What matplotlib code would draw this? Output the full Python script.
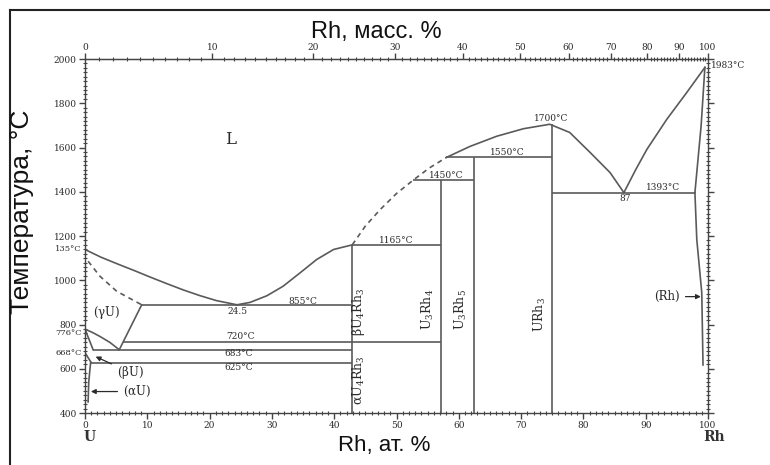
import numpy as np
import matplotlib.pyplot as plt
from matplotlib.lines import Line2D
from matplotlib.ticker import MultipleLocator, FixedLocator

# ---- data: (Rh at.%, temperature °C) ----
liq_left_x = [0, 2.5, 5.1, 7.8, 10.4, 13.1, 15.8, 18.5, 21.1, 24.4]
liq_left_t = [1139, 1105, 1075, 1045, 1015, 985, 956, 930, 908, 889]
liq_mid_x = [24.4, 26.5, 29.2, 31.8, 34.5, 37.2, 39.9, 42.9]
liq_mid_t = [889, 900, 930, 973, 1033, 1094, 1139, 1160]
liq_dash_x = [42.9, 45.0, 47.4, 50.0, 52.7, 55.3, 58.0]
liq_dash_t = [1160, 1245, 1320, 1392, 1453, 1508, 1555]
liq_top_x = [58.0, 61.8, 66.1, 70.4, 74.6, 77.8, 81.1, 84.3, 86.5]
liq_top_t = [1555, 1605, 1651, 1685, 1705, 1668, 1577, 1486, 1396]
liq_rh_x = [86.5, 88.4, 90.2, 93.4, 96.6, 99.5]
liq_rh_t = [1396, 1500, 1592, 1728, 1849, 1962]
liq_gu_x = [0.5, 2.4, 5.1, 9.1]
liq_gu_t = [1086, 1018, 950, 889]

gu_solvus_x = [0, 1.2, 2.4, 4.0, 5.5]
gu_solvus_t = [779, 764, 746, 719, 686]
gu_edge_x = [5.5, 9.1]
gu_edge_t = [686, 889]
bu_top_x = [0, 1.3]
bu_top_t = [779, 686]
bu_low_x = [0, 1.0]
bu_low_t = [672, 628]
au_solvus_x = [0.9, 0.6, 0.5]
au_solvus_t = [628, 540, 450]

rh_solidus_x = [99.5, 98.9, 97.9]
rh_solidus_t = [1962, 1700, 1396]
rh_solvus_x = [97.9, 98.2, 99.0, 99.2]
rh_solvus_t = [1396, 1184, 944, 617]

# isotherms: temperature, start, end
iso_t = [889, 723, 686, 628, 1160, 1453, 1555, 1396]
iso_x0 = [9.1, 6.1, 1.3, 0.9, 42.9, 52.7, 58.0, 75.0]
iso_x1 = [42.9, 57.1, 42.9, 42.9, 57.1, 62.5, 75.0, 97.9]

# compounds: composition and top temperature
comp_x = [42.9, 57.1, 62.5, 75.0]
comp_top = [1160, 1453, 1555, 1705]
comp_names = [r'$\beta$U$_4$Rh$_3$', 'U$_3$Rh$_4$', 'U$_3$Rh$_5$', 'URh$_3$']
comp_lab_x = [43.9, 55.1, 60.3, 73.0]
comp_lab_t = [859, 867, 867, 844]

# temperature labels inside the plot
tlab_text = ['855°C', '24.5', '720°C', '683°C', '625°C', '1165°C', '1450°C',
             '1550°C', '1700°C', '1393°C', '87']
tlab_x = [35.0, 24.4, 24.9, 24.6, 24.6, 50.0, 58.0, 67.7, 74.9, 92.8, 86.7]
tlab_t = [906, 860, 745, 667, 606, 1180, 1474, 1577, 1731, 1419, 1369]

left_lab = ['135°C', '776°C', '668°C']
left_lab_t = [1139, 760, 672]

U_MASS, RH_MASS = 238.03, 102.91


def at2wt(x):
    x = np.clip(np.asarray(x, float) / 100, 0, 1)
    return 100 * x * RH_MASS / (x * RH_MASS + (1 - x) * U_MASS)


def wt2at(w):
    w = np.clip(np.asarray(w, float) / 100, 0, 1)
    return 100 * (w / RH_MASS) / (w / RH_MASS + (1 - w) / U_MASS)


LC = '#5a5a5a'
TC = '#2a2a2a'
SERIF = 'DejaVu Serif'
plt.rcParams['mathtext.default'] = 'regular'

fig = plt.figure(figsize=(7.7, 4.65), dpi=100)
ax = fig.add_axes([85 / 770, 52 / 465, 623 / 770, 354 / 465])
ax.set_xlim(0, 100)
ax.set_ylim(400, 2000)

kw = dict(color=LC, lw=1.2)
ax.plot(liq_left_x, liq_left_t, **kw)
ax.plot(liq_mid_x, liq_mid_t, **kw)
ax.plot(liq_dash_x, liq_dash_t, ls=(0, (3, 2.5)), **kw)
ax.plot(liq_top_x, liq_top_t, **kw)
ax.plot(liq_rh_x, liq_rh_t, **kw)
ax.plot(liq_gu_x, liq_gu_t, ls=(0, (3, 2.5)), **kw)
ax.plot(gu_solvus_x, gu_solvus_t, **kw)
ax.plot(gu_edge_x, gu_edge_t, **kw)
ax.plot(bu_top_x, bu_top_t, **kw)
ax.plot(bu_low_x, bu_low_t, **kw)
ax.plot(au_solvus_x, au_solvus_t, **kw)
ax.plot(rh_solidus_x, rh_solidus_t, **kw)
ax.plot(rh_solvus_x, rh_solvus_t, **kw)
ax.hlines(iso_t, iso_x0, iso_x1, **kw)
ax.vlines(comp_x, 400, comp_top, **kw)

for name, x, t in zip(comp_names, comp_lab_x, comp_lab_t):
    ax.text(x, t, name, rotation=90, ha='center', va='center',
            fontsize=9, family=SERIF, color=TC)
ax.text(43.9, 550, r'$\alpha$U$_4$Rh$_3$', rotation=90, ha='center',
        va='center', fontsize=9, family=SERIF, color=TC)

for s, x, t in zip(tlab_text, tlab_x, tlab_t):
    ax.text(x, t, s, ha='center', va='center', fontsize=6.5,
            family=SERIF, color=TC)
ax.text(100.5, 1970, '1983°C', ha='left', va='center', fontsize=6.5,
        family=SERIF, color=TC, clip_on=False)
for s, t in zip(left_lab, left_lab_t):
    ax.text(-0.5, t, s, ha='right', va='center', fontsize=6,
            family=SERIF, color=TC, clip_on=False)

ax.text(23.3, 1637, 'L', ha='center', va='center', fontsize=12,
        family=SERIF, color=TC)
ax.text(3.5, 852, r'($\gamma$U)', ha='center', va='center', fontsize=8.5,
        family=SERIF, color=TC)

arr = dict(arrowstyle='-|>', color=TC, lw=0.9, mutation_scale=7)
ax.annotate(r'($\beta$U)', xy=(1.3, 660), xytext=(5.1, 583),
            ha='left', va='center', fontsize=8.5, family=SERIF, color=TC,
            arrowprops=arr)
ax.annotate(r'($\alpha$U)', xy=(0.5, 497), xytext=(6.1, 497),
            ha='left', va='center', fontsize=8.5, family=SERIF, color=TC,
            arrowprops=arr)
ax.annotate('(Rh)', xy=(99.3, 926), xytext=(95.5, 926),
            ha='right', va='center', fontsize=8.5, family=SERIF, color=TC,
            arrowprops=arr)

# axes and ticks
for sp in ax.spines.values():
    sp.set_color('#444444')
    sp.set_linewidth(1.0)
ax.xaxis.set_major_locator(MultipleLocator(10))
ax.xaxis.set_minor_locator(MultipleLocator(1))
ax.yaxis.set_major_locator(MultipleLocator(200))
ax.yaxis.set_minor_locator(MultipleLocator(20))
ax.tick_params(which='major', direction='out', length=4, width=1,
               color='#444444', labelsize=6.5, labelcolor=TC, pad=2,
               right=True)
ax.tick_params(which='minor', direction='inout', length=3, width=0.8,
               color='#444444', right=True)
for lab in ax.get_xticklabels() + ax.get_yticklabels():
    lab.set_family(SERIF)

top = ax.secondary_xaxis('top', functions=(at2wt, wt2at))
top.xaxis.set_major_locator(FixedLocator(np.arange(0, 101, 10)))
top.xaxis.set_minor_locator(FixedLocator(np.arange(0, 101, 1)))
top.tick_params(which='major', direction='out', length=4, width=1,
                color='#444444', labelsize=6.5, labelcolor=TC, pad=1)
top.tick_params(which='minor', direction='inout', length=3, width=0.8,
                color='#444444')
for lab in top.get_xticklabels():
    lab.set_family(SERIF)
top.spines['top'].set_color('#444444')

# axis titles
fig.text(22 / 770, 1 - 212 / 465, 'Температура, °C', rotation=90,
         ha='center', va='center', fontsize=19, family='Liberation Sans',
         color='#111111')
fig.text(384 / 770, 1 - 445 / 465, 'Rh, ат. %', ha='center', va='center',
         fontsize=16, family='Liberation Sans', color='#111111')
fig.text(376 / 770, 1 - 32 / 465, 'Rh, масс. %', ha='center', va='center',
         fontsize=17, family='Liberation Sans', color='#111111')
fig.text(90 / 770, 1 - 437 / 465, 'U', ha='center', va='center',
         fontsize=10, family=SERIF, weight='bold', color='#333333')
fig.text(714 / 770, 1 - 437 / 465, 'Rh', ha='center', va='center',
         fontsize=10, family=SERIF, weight='bold', color='#333333')

# outer frame lines of the picture
fig.add_artist(Line2D([10 / 770, 1], [1 - 10 / 465] * 2, color='#222222',
                      lw=1.5, transform=fig.transFigure))
fig.add_artist(Line2D([10 / 770] * 2, [0, 1 - 10 / 465], color='#222222',
                      lw=1.5, transform=fig.transFigure))

fig.savefig('out.png', dpi=100)
